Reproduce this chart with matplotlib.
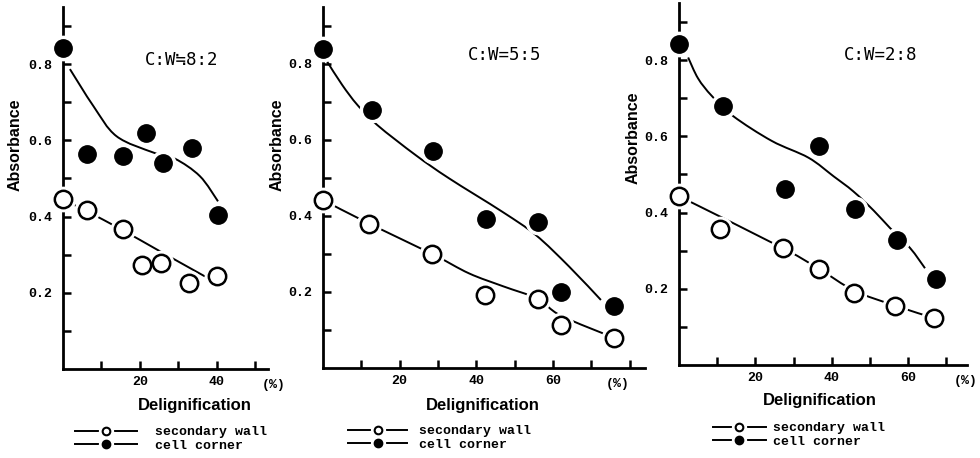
import matplotlib
matplotlib.use("Agg")
import matplotlib.pyplot as plt
from matplotlib.lines import Line2D
from matplotlib.legend_handler import HandlerTuple
from matplotlib.path import Path
from matplotlib.patches import PathPatch

# ---------------- data ----------------
titles = ["C:W\u22528:2", "C:W=5:5", "C:W=2:8"]

# panel 1  (C:W = 8:2)
p1_cc_x = [0, 6.3, 15.5, 21.7, 25.9, 33.6, 40.3]
p1_cc_y = [0.842, 0.563, 0.560, 0.620, 0.540, 0.580, 0.405]
p1_sw_x = [0, 6.3, 15.5, 20.6, 25.5, 32.8, 40.1]
p1_sw_y = [0.445, 0.417, 0.367, 0.274, 0.278, 0.225, 0.245]
p1_cc_curve_x = [1.8, 7.9, 13.9, 23.5, 29.1, 35.6, 40.3]
p1_cc_curve_y = [0.787, 0.690, 0.611, 0.568, 0.552, 0.506, 0.440]
p1_sw_line_x = [0, 6.2, 15.2, 25.2, 36.9]
p1_sw_line_y = [0.445, 0.414, 0.366, 0.309, 0.243]

# panel 2  (C:W = 5:5)
p2_cc_x = [0, 12.7, 28.7, 42.6, 56.1, 62.2, 76.0]
p2_cc_y = [0.840, 0.680, 0.572, 0.392, 0.383, 0.199, 0.163]
p2_sw_x = [0, 12.0, 28.5, 42.2, 56.0, 62.2, 75.8]
p2_sw_y = [0.442, 0.380, 0.300, 0.192, 0.182, 0.113, 0.080]
p2_cc_curve_x = [1.1, 5.0, 9.0, 14.2, 24.2, 32.9, 46.8, 55.5, 64.2, 72.5]
p2_cc_curve_y = [0.806, 0.745, 0.692, 0.639, 0.560, 0.499, 0.411, 0.350, 0.267, 0.179]
p2_sw_line_x = [0, 12.0, 28.5, 38.1, 47.0, 56.0, 62.0, 75.8]
p2_sw_line_y = [0.442, 0.380, 0.300, 0.249, 0.215, 0.182, 0.138, 0.080]

# panel 3  (C:W = 2:8)
p3_cc_x = [0, 11.4, 27.7, 36.7, 46.1, 57.0, 67.2]
p3_cc_y = [0.842, 0.680, 0.462, 0.575, 0.410, 0.329, 0.225]
p3_sw_x = [0, 10.7, 27.1, 36.7, 45.9, 56.5, 66.8]
p3_sw_y = [0.443, 0.357, 0.307, 0.252, 0.189, 0.156, 0.123]
p3_cc_curve_x = [2.4, 5.0, 8.6, 14.2, 24.3, 33.9, 40.5, 45.6, 51.0, 55.2, 60.5, 64.4]
p3_cc_curve_y = [0.807, 0.752, 0.706, 0.653, 0.588, 0.544, 0.495, 0.456, 0.405, 0.360, 0.307, 0.254]
p3_sw_line_x = [0, 27.1, 36.7, 45.9, 56.5, 66.8]
p3_sw_line_y = [0.443, 0.307, 0.252, 0.195, 0.156, 0.123]

xticks_list = [[10, 20, 30, 40, 50],
               [10, 20, 30, 40, 50, 60, 70, 80],
               [10, 20, 30, 40, 50, 60, 70]]
xlabels_shown = [20, 40, 60]
pct_pos = [54.8, 77.0, 75.0]
yticks = [0.1, 0.2, 0.3, 0.4, 0.5, 0.6, 0.7, 0.8, 0.9]
ylabels_shown = [0.2, 0.4, 0.6, 0.8]
series_names = ["secondary wall", "cell corner"]

panels = [
    (p1_cc_x, p1_cc_y, p1_sw_x, p1_sw_y, p1_cc_curve_x, p1_cc_curve_y, p1_sw_line_x, p1_sw_line_y),
    (p2_cc_x, p2_cc_y, p2_sw_x, p2_sw_y, p2_cc_curve_x, p2_cc_curve_y, p2_sw_line_x, p2_sw_line_y),
    (p3_cc_x, p3_cc_y, p3_sw_x, p3_sw_y, p3_cc_curve_x, p3_cc_curve_y, p3_sw_line_x, p3_sw_line_y),
]


def smooth_path(xs, ys):
    """Catmull-Rom curve through the read points, expressed as a Bezier path."""
    pts = list(zip(xs, ys))
    verts = [pts[0]]
    codes = [Path.MOVETO]
    n = len(pts)
    for k in range(n - 1):
        p0 = pts[k - 1] if k > 0 else pts[k]
        p1 = pts[k]
        p2 = pts[k + 1]
        p3 = pts[k + 2] if k + 2 < n else pts[k + 1]
        c1 = (p1[0] + (p2[0] - p0[0]) / 6, p1[1] + (p2[1] - p0[1]) / 6)
        c2 = (p2[0] - (p3[0] - p1[0]) / 6, p2[1] - (p3[1] - p1[1]) / 6)
        verts += [c1, c2, p2]
        codes += [Path.CURVE4] * 3
    return Path(verts, codes)


# ---------------- layout / style ----------------
W, H = 980, 458
fig = plt.figure(figsize=(W / 100, H / 100), dpi=100)
fig.patch.set_facecolor("white")

boxes = [(63, 369, 268, 7), (323, 368, 645, 7), (679, 365, 967, 3)]
xlims = [53.3, 84.0, 75.4]
ylims = 0.95
xlabel_pos = [(0.644, -0.100), (0.497, -0.103), (0.49, -0.097)]
ylabel_pos = [(-0.234, 0.619), (-0.143, 0.618), (-0.160, 0.627)]
title_pos = [(0.58, 0.854), (0.565, 0.867), (0.70, 0.856)]
legend_anchor = [(75, 426), (348, 425), (713, 422)]
legend_hlen = [4.7, 4.5, 4.0]
legend_tpad = [1.35, 0.9, 0.55]

mono = "Liberation Mono"
sans = "Liberation Sans"
MS = 12.5

for i, (ccx, ccy, swx, swy, cvx, cvy, slx, sly) in enumerate(panels):
    l, b, r, t = boxes[i]
    ax = fig.add_axes([l / W, (H - b) / H, (r - l) / W, (b - t) / H])
    ax.set_xlim(0, xlims[i])
    ax.set_ylim(0, ylims)
    for s in ["top", "right"]:
        ax.spines[s].set_visible(False)
    for s in ["left", "bottom"]:
        ax.spines[s].set_linewidth(2.0)
        ax.spines[s].set_color("black")

    for cx, cy in [(cvx, cvy), (slx, sly)]:
        ax.add_patch(PathPatch(smooth_path(cx, cy), fill=False, edgecolor="black",
                               lw=1.4, zorder=2, clip_on=False))

    # white halos give the gaps around the points
    ax.plot(ccx, ccy, "o", ms=MS + 5, mfc="white", mec="white", zorder=3, clip_on=False)
    ax.plot(swx, swy, "o", ms=MS + 5, mfc="white", mec="white", zorder=3, clip_on=False)
    ax.plot(ccx, ccy, "o", ms=MS, mfc="black", mec="black", zorder=4, clip_on=False)
    ax.plot(swx, swy, "o", ms=MS, mfc="white", mec="black", mew=1.8, zorder=4, clip_on=False)

    ax.set_xticks(xticks_list[i])
    ax.set_xticklabels([str(v) if v in xlabels_shown else "" for v in xticks_list[i]])
    ax.set_yticks(yticks)
    ax.set_yticklabels([f"{v:.1f}" if round(v, 1) in ylabels_shown else "" for v in yticks])
    ax.tick_params(direction="in", length=6, width=1.8, labelsize=9.5, pad=5)
    ax.tick_params(axis="y", pad=8)
    for lab in ax.get_xticklabels() + ax.get_yticklabels():
        lab.set_fontfamily(mono)
        lab.set_fontweight("bold")

    ax.annotate("(%)", xy=(pct_pos[i], 0), xycoords=("data", "axes fraction"),
                xytext=(0, -7.5), textcoords="offset points", ha="center", va="top",
                fontsize=9.5, family=mono, fontweight="bold", annotation_clip=False)

    ax.set_xlabel("Delignification", fontsize=12, family=sans, fontweight="bold", va="center")
    ax.xaxis.set_label_coords(*xlabel_pos[i])
    ax.set_ylabel("Absorbance", fontsize=11.5, family=sans, fontweight="bold", va="center")
    ax.yaxis.set_label_coords(*ylabel_pos[i])

    ax.text(*title_pos[i], titles[i], transform=ax.transAxes, ha="center", va="center",
            fontsize=12.5, family=["DejaVu Sans Mono", "DejaVu Sans"])

    line = Line2D([], [], color="black", lw=1.4)
    halo = Line2D([], [], marker="o", ls="none", ms=10, mfc="white", mec="white")
    sw_m = Line2D([], [], marker="o", ls="none", ms=5.5, mfc="white", mec="black", mew=1.5)
    cc_m = Line2D([], [], marker="o", ls="none", ms=6, mfc="black", mec="black")
    lx, ly = legend_anchor[i]
    ax.legend([(line, halo, sw_m), (line, halo, cc_m)], series_names,
              handler_map={tuple: HandlerTuple(ndivide=1, pad=0)},
              loc="upper left", bbox_to_anchor=(lx / W, (H - ly) / H),
              bbox_transform=fig.transFigure, frameon=False, borderpad=0,
              borderaxespad=0, handlelength=legend_hlen[i], handletextpad=legend_tpad[i],
              labelspacing=0.1, prop={"family": mono, "size": 9.5, "weight": "bold"})

fig.savefig("out.png", dpi=100, facecolor="white")
